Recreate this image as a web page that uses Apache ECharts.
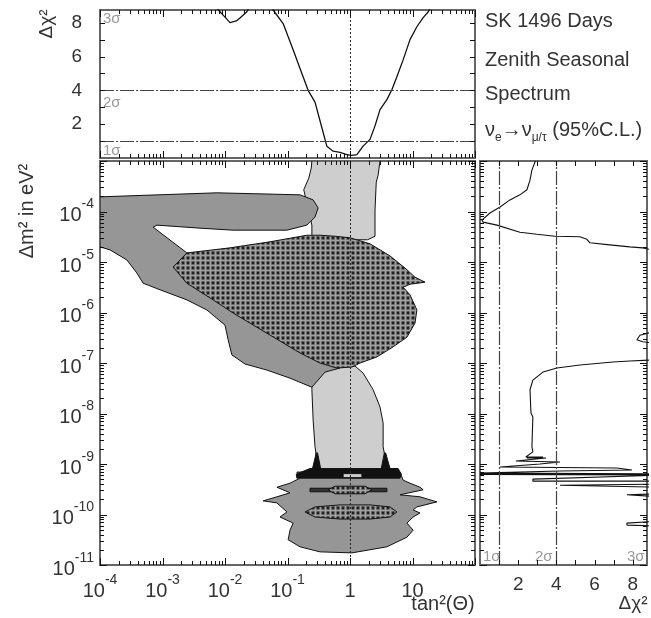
<!DOCTYPE html>
<html><head><meta charset="utf-8">
<script src="https://cdn.jsdelivr.net/npm/echarts@6/dist/echarts.min.js"></script>
<style>html,body{margin:0;padding:0;background:#fff}#c{width:651px;height:618px}</style>
</head><body><div id="c"></div>
<script>
// ---------- DATA (log10 units for tan^2 and dm^2) ----------
// Top panel: delta chi^2 vs log10(tan^2)
const topLogTan = [-2.3,-2.25,-2.08,-2.0,-1.92,-1.82,-1.76,-1.65,-1.55,-1.32,-1.23,-1.07,-0.91,-0.77,-0.67,-0.56,-0.48,-0.40,-0.37,-0.27,-0.16,-0.05,0.03,0.11,0.21,0.32,0.40,0.48,0.59,0.67,0.75,0.85,0.96,1.07,1.17,1.25,1.35];
const topChi2   = [9.8,9.3,8.65,8.33,8.0,8.1,8.28,8.65,9.3,9.3,8.75,7.95,6.4,5.0,4.0,3.3,2.2,1.1,0.69,0.4,0.33,0.2,0.15,0.2,0.7,1.1,1.9,2.86,3.45,4.04,4.8,5.8,7.0,7.76,8.3,8.63,9.3];
// Right panel: delta chi^2 vs log10(dm^2)
const rightChi2 = [2.9,2.72,2.62,2.46,2.09,1.57,1.05,0.52,0.10,0.16,0.89,2.09,2.98,3.93,5.24,5.6,5.76,6.8,7.85,8.53,9.0,9.5,9.5,9.0,8.38,8.22,8.53,9.0,9.5,9.5,9.0,7.85,6.96,5.24,4.03,3.3,2.77,2.62,2.67,2.77,2.72,2.77,2.4,3.3,2.45,3.46,2.93,1.88,4.19,3.14,1.05,7.17,7.96,4.19,0.0,9.5,0.0,9.5,9.5,2.77,2.77,9.5,9.5,4.19,4.19,9.5,9.5,7.7,7.7,9.5,9.5,7.7,7.7,9.5,9.5];
const rightLogDm2 = [-3.0,-3.18,-3.38,-3.57,-3.67,-3.77,-3.91,-4.03,-4.17,-4.21,-4.27,-4.41,-4.45,-4.49,-4.50,-4.55,-4.62,-4.66,-4.70,-4.72,-4.76,-4.9,-6.3,-6.39,-6.45,-6.54,-6.58,-6.60,-6.65,-6.9,-6.94,-6.96,-6.98,-7.04,-7.10,-7.18,-7.34,-7.53,-7.99,-8.07,-8.66,-8.76,-8.86,-8.86,-8.88,-8.88,-8.90,-8.94,-8.96,-9.0,-9.06,-9.08,-9.12,-9.14,-9.18,-9.195,-9.205,-9.22,-9.24,-9.30,-9.34,-9.34,-9.40,-9.42,-9.44,-9.46,-9.59,-9.61,-9.63,-9.65,-10.13,-10.17,-10.21,-10.23,-11];
// Allowed regions: [log10(tan^2), log10(dm^2)]
const lightTopPoly = [[-0.61,-3.00],[0.48,-3.00],[0.45,-3.28],[0.42,-3.42],[0.40,-3.97],[0.40,-4.49],[0.28,-4.56],[-0.61,-4.56],[-0.61,-4.27],[-0.74,-3.57],[-0.66,-3.34],[-0.62,-3.14]];
const lightLowPoly = [[-0.43,-7.10],[0.08,-7.06],[0.21,-7.20],[0.37,-7.53],[0.48,-7.87],[0.53,-8.19],[0.53,-8.66],[0.56,-8.86],[0.59,-8.98],[0.59,-9.12],[-0.53,-9.12],[-0.53,-8.92],[-0.56,-8.66],[-0.59,-8.13],[-0.61,-7.53],[-0.61,-7.44]];
const mediumUpperPoly = [[-4.00,-3.71],[-2.13,-3.63],[-0.80,-3.67],[-0.59,-3.77],[-0.51,-3.93],[-0.56,-4.11],[-0.69,-4.27],[-1.01,-4.37],[-1.87,-4.37],[-2.40,-4.33],[-3.09,-4.27],[-3.15,-4.31],[-2.61,-4.82],[-1.60,-5.75],[-0.16,-7.10],[-0.40,-7.18],[-0.61,-7.48],[-0.96,-7.30],[-1.33,-7.14],[-1.68,-7.02],[-1.89,-6.84],[-1.95,-6.54],[-2.00,-6.25],[-2.29,-5.95],[-2.61,-5.75],[-3.04,-5.55],[-3.31,-5.42],[-3.41,-5.22],[-3.57,-4.96],[-3.84,-4.76],[-4.00,-4.70]];
const dottedUpperPoly = [[-2.83,-5.10],[-2.61,-4.82],[-1.92,-4.72],[-1.28,-4.60],[-0.69,-4.47],[-0.48,-4.47],[-0.24,-4.49],[0.00,-4.52],[0.32,-4.64],[0.64,-4.88],[0.88,-5.12],[1.04,-5.30],[1.20,-5.40],[0.96,-5.44],[0.85,-5.50],[0.96,-5.65],[1.07,-5.95],[1.04,-6.21],[0.91,-6.49],[0.69,-6.68],[0.43,-6.88],[0.16,-7.00],[0.03,-7.08],[-0.21,-7.10],[-0.48,-7.00],[-0.80,-6.80],[-1.33,-6.41],[-1.87,-6.01],[-2.19,-5.75],[-2.61,-5.42]];
const mediumLowerPoly = [[-0.85,-9.16],[0.80,-9.16],[0.85,-9.32],[0.96,-9.38],[1.12,-9.46],[1.17,-9.51],[0.80,-9.61],[1.12,-9.65],[1.39,-9.75],[1.07,-9.85],[1.01,-9.91],[1.12,-9.97],[1.01,-10.05],[0.91,-10.17],[1.01,-10.31],[0.91,-10.45],[0.59,-10.64],[0.03,-10.76],[-0.48,-10.74],[-0.80,-10.64],[-0.99,-10.50],[-0.96,-10.31],[-0.91,-10.17],[-1.12,-10.05],[-1.01,-9.95],[-1.17,-9.77],[-1.39,-9.73],[-1.17,-9.65],[-0.96,-9.57],[-1.17,-9.46],[-0.96,-9.38],[-0.80,-9.28]];
const blackBandPoly = [[-0.64,-9.09],[0.77,-9.09],[0.82,-9.20],[0.80,-9.28],[-0.85,-9.28],[-0.86,-9.20]];
const lightPatchPoly = [[-0.11,-9.19],[0.19,-9.19],[0.19,-9.27],[-0.11,-9.27]];
const spikeLeftPoly = [[-0.54,-8.78],[-0.52,-8.78],[-0.47,-9.09],[-0.60,-9.09]];
const spikeRightPoly = [[0.55,-8.78],[0.57,-8.78],[0.64,-9.09],[0.50,-9.09]];
const blackDashPoly = [[-0.64,-9.48],[0.59,-9.48],[0.59,-9.55],[-0.64,-9.55]];
const dottedSmallPoly = [[-0.35,-9.51],[-0.24,-9.44],[0.24,-9.44],[0.35,-9.51],[0.24,-9.59],[-0.24,-9.59]];
const dottedLowerPoly = [[-0.72,-9.95],[-0.56,-9.85],[-0.16,-9.81],[0.32,-9.81],[0.64,-9.85],[0.75,-9.95],[0.64,-10.05],[0.32,-10.09],[-0.16,-10.09],[-0.56,-10.05]];
// Tick label values
const xDecades = [-4,-3,-2,-1,0,1,2];
const yDecades = [-11,-10,-9,-8,-7,-6,-5,-4,-3];
const chiLabels = [2,4,6,8];
const sigmaLevels = [1,4];

// ---------- STYLE ----------
const FF = '"Liberation Sans", Arial, Helvetica, sans-serif';
const TXT = '#333';
const LIGHT = '#cecece', MED = '#969696', BLK = '#111';
const pc = document.createElement('canvas'); pc.width = 5; pc.height = 5;
const g = pc.getContext('2d');
g.fillStyle = '#7c7c7c'; g.fillRect(0,0,5,5);
g.fillStyle = '#a0a0a0'; g.fillRect(0,0,5,1); g.fillRect(0,0,1,5);
g.fillStyle = '#202020'; g.beginPath(); g.arc(3,3,1.4,0,Math.PI*2); g.fill();
const DOT = {image: pc, repeat: 'repeat'};

function polySeries(points, fill) {
  return {type:'custom', xAxisIndex:1, yAxisIndex:1, silent:true, clip:true, data:[[0,-7]],
    renderItem: function(params, api){
      return {type:'polygon', shape:{points: points.map(p => api.coord(p))},
        style:{fill: fill, stroke: BLK, lineWidth: 1}};
    }};
}
function logTicks(lo, hi){ const t=[]; for(let k=lo;k<=hi;k++){ t.push([k,7]); if(k<hi) for(let m=2;m<=9;m++) t.push([k+Math.log10(m),4]); } return t; }
function linTicks(lo, hi, len){ const t=[]; for(let k=lo;k<=hi;k++) t.push([k,len]); return t; }
function tickSeries(xi, yi, xT, yT, xS, yS, refX, refY){
  return {type:'custom', xAxisIndex:xi, yAxisIndex:yi, silent:true, clip:false, z:20, data:[[refX, refY]],
    renderItem: function(params, api){
      const cs = params.coordSys, ch = [], st = {stroke:'#111', lineWidth:1};
      xT.forEach(([v,len]) => {
        const x = Math.round(api.coord([v, refY])[0]) + 0.5;
        if (xS.includes('b')) ch.push({type:'line', shape:{x1:x,y1:cs.y+cs.height,x2:x,y2:cs.y+cs.height-len}, style:st});
        if (xS.includes('t')) ch.push({type:'line', shape:{x1:x,y1:cs.y,x2:x,y2:cs.y+len}, style:st});
      });
      yT.forEach(([v,len]) => {
        const y = Math.round(api.coord([refX, v])[1]) + 0.5;
        if (yS.includes('l')) ch.push({type:'line', shape:{x1:cs.x,y1:y,x2:cs.x+len,y2:y}, style:st});
        if (yS.includes('r')) ch.push({type:'line', shape:{x1:cs.x+cs.width,y1:y,x2:cs.x+cs.width-len,y2:y}, style:st});
      });
      return {type:'group', children: ch};
    }};
}
const sigStyle = {color:'#444', width:1.2, type:[14,2,2,2]};
const unityStyle = {color:'#222', width:1, type:[2,2]};
const supRich = {
  n:{fontSize:20, lineHeight:28, verticalAlign:'bottom', fontFamily:FF, color:TXT},
  s:{fontSize:14, lineHeight:10, verticalAlign:'top', fontFamily:FF, color:TXT}
};
const hideAxis = {axisLine:{show:false}, axisTick:{show:false}, splitLine:{show:false}};
const gridBase = {show:true, borderColor:'#666', borderWidth:2, backgroundColor:'transparent', containLabel:false, outerBoundsMode:'none'};

const option = {
  animation:false,
  backgroundColor:'#fff',
  grid:[
    Object.assign({left:100, top:10, width:375, height:148}, gridBase),
    Object.assign({left:100, top:161, width:375, height:404}, gridBase),
    Object.assign({left:480, top:161, width:167, height:404}, gridBase)
  ],
  xAxis:[
    Object.assign({gridIndex:0, type:'value', min:-4, max:2, interval:1, axisLabel:{show:false}}, hideAxis),
    Object.assign({gridIndex:1, type:'value', min:-4, max:2, interval:1,
      axisLabel:{margin:8, rich:supRich, formatter: v => {
        if (xDecades.indexOf(v) < 0 || v === 2) return '';
        if (v === 0) return '{n|1}';
        if (v === 1) return '{n|10}';
        return '{n|10}{s|' + v + '}';
      }}}, hideAxis),
    Object.assign({gridIndex:2, type:'value', min:0, max:8.75, interval:2,
      axisLabel:{margin:10, fontSize:19, fontFamily:FF, color:TXT, showMaxLabel:false,
        formatter: v => chiLabels.indexOf(v) >= 0 ? String(v) : ''}}, hideAxis)
  ],
  yAxis:[
    Object.assign({gridIndex:0, type:'value', min:0, max:8.75, interval:2,
      axisLabel:{margin:18, fontSize:19, fontFamily:FF, color:TXT, showMaxLabel:false,
        formatter: v => chiLabels.indexOf(v) >= 0 ? String(v) : ''}}, hideAxis),
    Object.assign({gridIndex:1, type:'value', min:-11, max:-3, interval:1,
      axisLabel:{margin:6, rich:supRich, formatter: v => (yDecades.indexOf(v) < 0 || v === -3) ? '' : '{n|10}{s|' + v + '}'}}, hideAxis),
    Object.assign({gridIndex:2, type:'value', min:-11, max:-3, interval:1, axisLabel:{show:false}}, hideAxis)
  ],
  series:[
    polySeries(lightTopPoly, LIGHT),
    polySeries(lightLowPoly, LIGHT),
    polySeries(mediumUpperPoly, MED),
    polySeries(dottedUpperPoly, DOT),
    polySeries(mediumLowerPoly, MED),
    polySeries(blackBandPoly, BLK),
    polySeries(lightPatchPoly, LIGHT),
    polySeries(spikeLeftPoly, BLK),
    polySeries(spikeRightPoly, BLK),
    polySeries(blackDashPoly, '#333'),
    polySeries(dottedSmallPoly, DOT),
    polySeries(dottedLowerPoly, DOT),
    {type:'line', xAxisIndex:1, yAxisIndex:1, data:[], silent:true,
      markLine:{silent:true, symbol:['none','none'], label:{show:false}, lineStyle:unityStyle, data:[{xAxis:0}]}},
    {type:'line', xAxisIndex:0, yAxisIndex:0, silent:true, showSymbol:false, clip:true,
      data: topLogTan.map((v,i) => [v, topChi2[i]]),
      lineStyle:{color:'#111', width:1.3},
      markLine:{silent:true, symbol:['none','none'], label:{show:false},
        data: sigmaLevels.map(s => ({yAxis:s, lineStyle:sigStyle})).concat([{xAxis:0, lineStyle:unityStyle}])}},
    {type:'line', xAxisIndex:2, yAxisIndex:2, silent:true, showSymbol:false, clip:true,
      data: rightChi2.map((v,i) => [v, rightLogDm2[i]]),
      lineStyle:{color:'#111', width:1.1},
      markLine:{silent:true, symbol:['none','none'], label:{show:false},
        data: sigmaLevels.map(s => ({xAxis:s, lineStyle:sigStyle}))}},
    tickSeries(0, 0, logTicks(-4,2), linTicks(1,8,5), ['t','b'], ['l','r'], -4, 0),
    tickSeries(1, 1, logTicks(-4,2), logTicks(-11,-3), ['t','b'], ['l','r'], -4, -11),
    tickSeries(2, 2, linTicks(1,8,5), logTicks(-11,-3), ['t','b'], ['l','r'], 0, -11)
  ],
  graphic:[
    {type:'text', left:485, top:11, style:{text:'SK 1496 Days', fontSize:20, fontFamily:FF, fill:TXT}},
    {type:'text', left:485, top:50, style:{text:'Zenith Seasonal', fontSize:20, fontFamily:FF, fill:TXT}},
    {type:'text', left:485, top:84, style:{text:'Spectrum', fontSize:20, fontFamily:FF, fill:TXT}},
    {type:'text', left:485, top:120, style:{text:'{g|ν}{b|e}{g|→ν}{b|μ/τ}{g| (95%C.L.)}', fill:TXT,
      rich:{g:{fontSize:20, lineHeight:24, fontFamily:FF, verticalAlign:'top', fill:TXT}, b:{fontSize:12, lineHeight:12, fontFamily:FF, verticalAlign:'bottom', fill:TXT}}}},
    {type:'text', x:47, y:24, rotation:Math.PI/2, style:{text:'Δχ²', fontSize:19, fontFamily:FF, fill:TXT, align:'center', verticalAlign:'middle'}},
    {type:'text', x:27, y:211, rotation:Math.PI/2, style:{text:'Δm² in eV²', fontSize:20, fontFamily:FF, fill:TXT, align:'center', verticalAlign:'middle'}},
    {type:'text', x:443, y:604, style:{text:'tan²(Θ)', fontSize:20, fontFamily:FF, fill:TXT, align:'center', verticalAlign:'middle'}},
    {type:'text', x:633, y:604, style:{text:'Δχ²', fontSize:19, fontFamily:FF, fill:TXT, align:'center', verticalAlign:'middle'}},
    {type:'text', x:103, y:19, style:{text:'3σ', fontSize:15, fontFamily:FF, fill:'#9a9a9a', verticalAlign:'middle'}},
    {type:'text', x:103, y:103, style:{text:'2σ', fontSize:15, fontFamily:FF, fill:'#9a9a9a', verticalAlign:'middle'}},
    {type:'text', x:103, y:151, style:{text:'1σ', fontSize:15, fontFamily:FF, fill:'#9a9a9a', verticalAlign:'middle'}},
    {type:'text', x:483, y:557, style:{text:'1σ', fontSize:15, fontFamily:FF, fill:'#9a9a9a', verticalAlign:'middle'}},
    {type:'text', x:535, y:557, style:{text:'2σ', fontSize:15, fontFamily:FF, fill:'#9a9a9a', verticalAlign:'middle'}},
    {type:'text', x:627, y:557, style:{text:'3σ', fontSize:15, fontFamily:FF, fill:'#9a9a9a', verticalAlign:'middle'}}
  ]
};
const chart = echarts.init(document.getElementById('c'), null, {renderer:'canvas'});
chart.setOption(option);
</script></body></html>
